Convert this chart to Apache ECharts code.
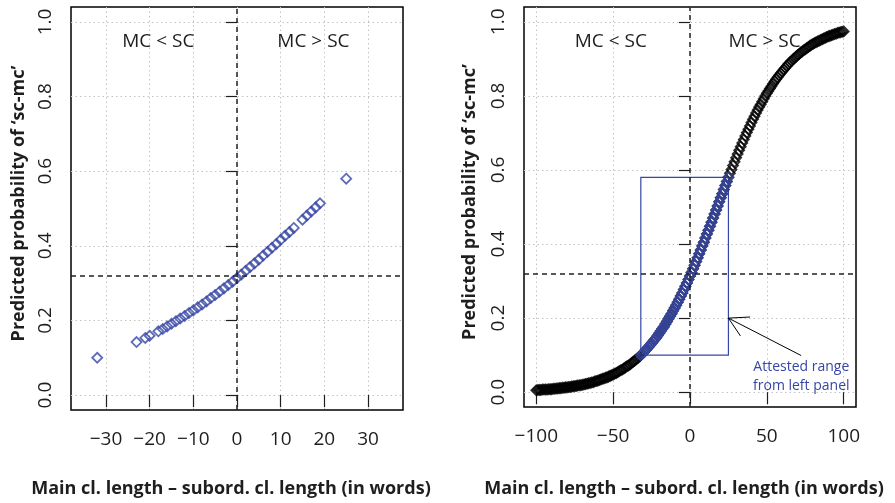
<!DOCTYPE html>
<html>
<head>
<meta charset="utf-8">
<script src="https://cdn.jsdelivr.net/npm/echarts@6/dist/echarts.min.js"></script>
<style>
  html, body { margin: 0; padding: 0; background: #fff; }
  #chart { width: 895px; height: 503px; }
</style>
</head>
<body>
<div id="chart"></div>
<script>
// attested length differences (left panel) and their predicted probabilities
const attestedDiff = [-32, -23, -21, -20, -18, -17, -16, -15, -14, -13, -12, -11, -10, -9, -8, -7, -6, -5, -4, -3, -2, -1,
  0, 1, 2, 3, 4, 5, 6, 7, 8, 9, 10, 11, 12, 13, 15, 16, 17, 18, 19, 25];
const attestedProb = [0.100, 0.142, 0.153, 0.159, 0.171, 0.177, 0.184, 0.191, 0.198, 0.205, 0.212, 0.220, 0.227, 0.235, 0.243, 0.251, 0.260, 0.268, 0.277, 0.286, 0.295, 0.304,
  0.314, 0.323, 0.333, 0.343, 0.353, 0.363, 0.374, 0.384, 0.395, 0.405, 0.416, 0.427, 0.437, 0.448, 0.470, 0.481, 0.492, 0.503, 0.514, 0.580];

// full range of differences (right panel)
const fullDiff = [
  -100, -99, -98, -97, -96, -95, -94, -93, -92, -91,
  -90, -89, -88, -87, -86, -85, -84, -83, -82, -81,
  -80, -79, -78, -77, -76, -75, -74, -73, -72, -71,
  -70, -69, -68, -67, -66, -65, -64, -63, -62, -61,
  -60, -59, -58, -57, -56, -55, -54, -53, -52, -51,
  -50, -49, -48, -47, -46, -45, -44, -43, -42, -41,
  -40, -39, -38, -37, -36, -35, -34, -33, -32, -31,
  -30, -29, -28, -27, -26, -25, -24, -23, -22, -21,
  -20, -19, -18, -17, -16, -15, -14, -13, -12, -11,
  -10, -9, -8, -7, -6, -5, -4, -3, -2, -1,
  0, 1, 2, 3, 4, 5, 6, 7, 8, 9,
  10, 11, 12, 13, 14, 15, 16, 17, 18, 19,
  20, 21, 22, 23, 24, 25, 26, 27, 28, 29,
  30, 31, 32, 33, 34, 35, 36, 37, 38, 39,
  40, 41, 42, 43, 44, 45, 46, 47, 48, 49,
  50, 51, 52, 53, 54, 55, 56, 57, 58, 59,
  60, 61, 62, 63, 64, 65, 66, 67, 68, 69,
  70, 71, 72, 73, 74, 75, 76, 77, 78, 79,
  80, 81, 82, 83, 84, 85, 86, 87, 88, 89,
  90, 91, 92, 93, 94, 95, 96, 97, 98, 99,
  100];
const fullProb = [
  0.005, 0.006, 0.006, 0.006, 0.007, 0.007, 0.007, 0.007, 0.008, 0.008,
  0.008, 0.009, 0.009, 0.010, 0.010, 0.011, 0.011, 0.012, 0.012, 0.013,
  0.013, 0.014, 0.014, 0.015, 0.016, 0.016, 0.017, 0.018, 0.019, 0.019,
  0.020, 0.021, 0.022, 0.023, 0.024, 0.025, 0.026, 0.027, 0.029, 0.030,
  0.031, 0.033, 0.034, 0.036, 0.037, 0.039, 0.040, 0.042, 0.044, 0.046,
  0.048, 0.050, 0.052, 0.054, 0.057, 0.059, 0.061, 0.064, 0.067, 0.070,
  0.072, 0.075, 0.079, 0.082, 0.085, 0.089, 0.092, 0.096, 0.100, 0.104,
  0.108, 0.113, 0.117, 0.122, 0.127, 0.132, 0.137, 0.142, 0.147, 0.153,
  0.159, 0.165, 0.171, 0.177, 0.184, 0.191, 0.198, 0.205, 0.212, 0.220,
  0.227, 0.235, 0.243, 0.251, 0.260, 0.268, 0.277, 0.286, 0.295, 0.304,
  0.314, 0.323, 0.333, 0.343, 0.353, 0.363, 0.374, 0.384, 0.395, 0.405,
  0.416, 0.427, 0.437, 0.448, 0.459, 0.470, 0.481, 0.492, 0.503, 0.514,
  0.525, 0.536, 0.547, 0.558, 0.569, 0.580, 0.591, 0.601, 0.612, 0.622,
  0.633, 0.643, 0.653, 0.663, 0.673, 0.682, 0.692, 0.701, 0.710, 0.719,
  0.728, 0.737, 0.745, 0.754, 0.762, 0.770, 0.777, 0.785, 0.792, 0.800,
  0.807, 0.813, 0.820, 0.826, 0.833, 0.839, 0.845, 0.850, 0.856, 0.861,
  0.866, 0.871, 0.876, 0.881, 0.886, 0.890, 0.894, 0.898, 0.902, 0.906,
  0.910, 0.913, 0.917, 0.920, 0.923, 0.926, 0.929, 0.932, 0.935, 0.938,
  0.940, 0.943, 0.945, 0.947, 0.949, 0.951, 0.953, 0.955, 0.957, 0.959,
  0.961, 0.962, 0.964, 0.965, 0.967, 0.968, 0.970, 0.971, 0.972, 0.973,
  0.974];

const baselineProb = 0.316;
const leftTicks = [-30, -20, -10, 0, 10, 20, 30];
const rightTicks = [-100, -50, 0, 50, 100];
const probTicks = [0, 0.2, 0.4, 0.6, 0.8, 1.0];

const BLUE = '#3646a4';
const INK = '#1e1e1e';
const FONT = 'Open Sans';

const chart = echarts.init(document.getElementById('chart'));

const pairs = (xs, ys) => xs.map((x, i) => [x, ys[i]]);
const minusFmt = v => (v < 0 ? '\u2212' + (-v) : String(v));

// attested range box, taken from the left panel data
const rangeX = [Math.min(...attestedDiff), Math.max(...attestedDiff)];
const rangeY = [Math.min(...attestedProb), Math.max(...attestedProb)];
const inRange = fullDiff.map((x, i) => [x, fullProb[i]]).filter(d => d[0] >= rangeX[0] && d[0] <= rangeX[1]);

const dotted = { show: true, lineStyle: { color: '#c2c2c2', type: [1.5, 3], width: 1 } };
const titleStyle = { fontFamily: FONT, fontWeight: 'bold', fontSize: 18, color: INK };
const dashStyle = { color: '#222', type: [5, 4], width: 1.5 };

function diffAxis(gridIndex, min, max, ticks, nameGap) {
  return {
    type: 'value', gridIndex, min, max,
    name: 'Main cl. length \u2013 subord. cl. length (in words)',
    nameLocation: 'middle', nameGap,
    nameTextStyle: Object.assign({ padding: [0, 12, 0, 0] }, titleStyle),
    axisLine: { show: false },
    axisTick: { show: true, length: 12, customValues: ticks, lineStyle: { color: INK, width: 1.2 } },
    axisLabel: { customValues: ticks, margin: 20, fontSize: 19, color: INK, fontFamily: FONT, formatter: minusFmt },
    splitLine: dotted
  };
}

function probAxis(gridIndex, nameGap) {
  return {
    type: 'value', gridIndex, min: -0.04, max: 1.04,
    name: 'Predicted probability of \u2018sc-mc\u2019',
    nameLocation: 'middle', nameGap,
    nameTextStyle: Object.assign({ padding: [0, 0, 0, 10] }, titleStyle),
    axisLine: { show: false },
    axisTick: { show: true, length: 11, customValues: probTicks, lineStyle: { color: INK, width: 1.2 } },
    axisLabel: { customValues: probTicks, rotate: 90, margin: 16, fontSize: 19, color: INK, fontFamily: FONT, formatter: v => v.toFixed(1) },
    splitLine: dotted
  };
}

function sideLabels(left, right) {
  return {
    silent: true, symbol: 'rect', symbolSize: 1,
    itemStyle: { color: 'rgba(0,0,0,0)' },
    label: { show: true, position: 'inside', formatter: p => p.name, color: INK, fontFamily: FONT, fontSize: 19 },
    data: [{ name: 'MC < SC', coord: [left, 0.946] }, { name: 'MC > SC', coord: [right, 0.946] }]
  };
}

const diamond = color => ({ color: 'rgba(0,0,0,0)', borderColor: color, borderWidth: 1.8 });
const arrowLine = { color: '#000', type: 'solid', width: 1 };

chart.setOption({
  animation: false,
  textStyle: { fontFamily: FONT },
  grid: [
    { left: 71, right: 492, top: 7, bottom: 93, show: true, borderColor: '#000', borderWidth: 1.5 },
    { left: 524, right: 39, top: 7, bottom: 93, show: true, borderColor: '#000', borderWidth: 1.5 }
  ],
  xAxis: [diffAxis(0, -38, 38, leftTicks, 70), diffAxis(1, -108, 108, rightTicks, 73)],
  yAxis: [probAxis(0, 43), probAxis(1, 45)],
  series: [
    {
      type: 'scatter', xAxisIndex: 0, yAxisIndex: 0,
      data: pairs(attestedDiff, attestedProb),
      symbol: 'diamond', symbolSize: 10, itemStyle: diamond(BLUE),
      markLine: {
        silent: true, symbol: 'none', label: { show: false }, lineStyle: dashStyle,
        data: [{ xAxis: 0 }, { yAxis: baselineProb }]
      },
      markPoint: sideLabels(-18, 17.5)
    },
    {
      type: 'scatter', xAxisIndex: 1, yAxisIndex: 1,
      data: pairs(fullDiff, fullProb),
      symbol: 'diamond', symbolSize: 10, itemStyle: diamond('#000'),
      markLine: {
        silent: true, symbol: 'none', label: { show: false },
        data: [
          { xAxis: 0, lineStyle: dashStyle },
          { yAxis: baselineProb, lineStyle: dashStyle },
          [{ coord: [72.3, 0.099], lineStyle: arrowLine }, { coord: [rangeX[1], 0.2] }],
          [{ coord: [rangeX[1], 0.2], lineStyle: arrowLine }, { coord: [39.1, 0.203] }],
          [{ coord: [rangeX[1], 0.2], lineStyle: arrowLine }, { coord: [32.8, 0.152] }]
        ]
      },
      markPoint: {
        silent: true, symbol: 'rect', symbolSize: 1,
        itemStyle: { color: 'rgba(0,0,0,0)' },
        label: { show: true, position: 'inside', formatter: p => p.name, color: INK, fontFamily: FONT, fontSize: 19 },
        data: [
          { name: 'MC < SC', coord: [-51.5, 0.946] },
          { name: 'MC > SC', coord: [48.5, 0.946] },
          {
            name: 'Attested range\nfrom left panel', coord: [72.4, 0.043],
            label: { color: BLUE, fontSize: 14, lineHeight: 19 }
          }
        ]
      },
      markArea: {
        silent: true,
        itemStyle: { color: 'rgba(0,0,0,0)', borderColor: BLUE, borderWidth: 1.2 },
        data: [[{ coord: [rangeX[0], rangeY[0]] }, { coord: [rangeX[1], rangeY[1]] }]]
      }
    },
    {
      type: 'scatter', xAxisIndex: 1, yAxisIndex: 1,
      data: inRange,
      symbol: 'diamond', symbolSize: 10, itemStyle: diamond(BLUE), z: 3
    }
  ]
});
</script>
</body>
</html>
